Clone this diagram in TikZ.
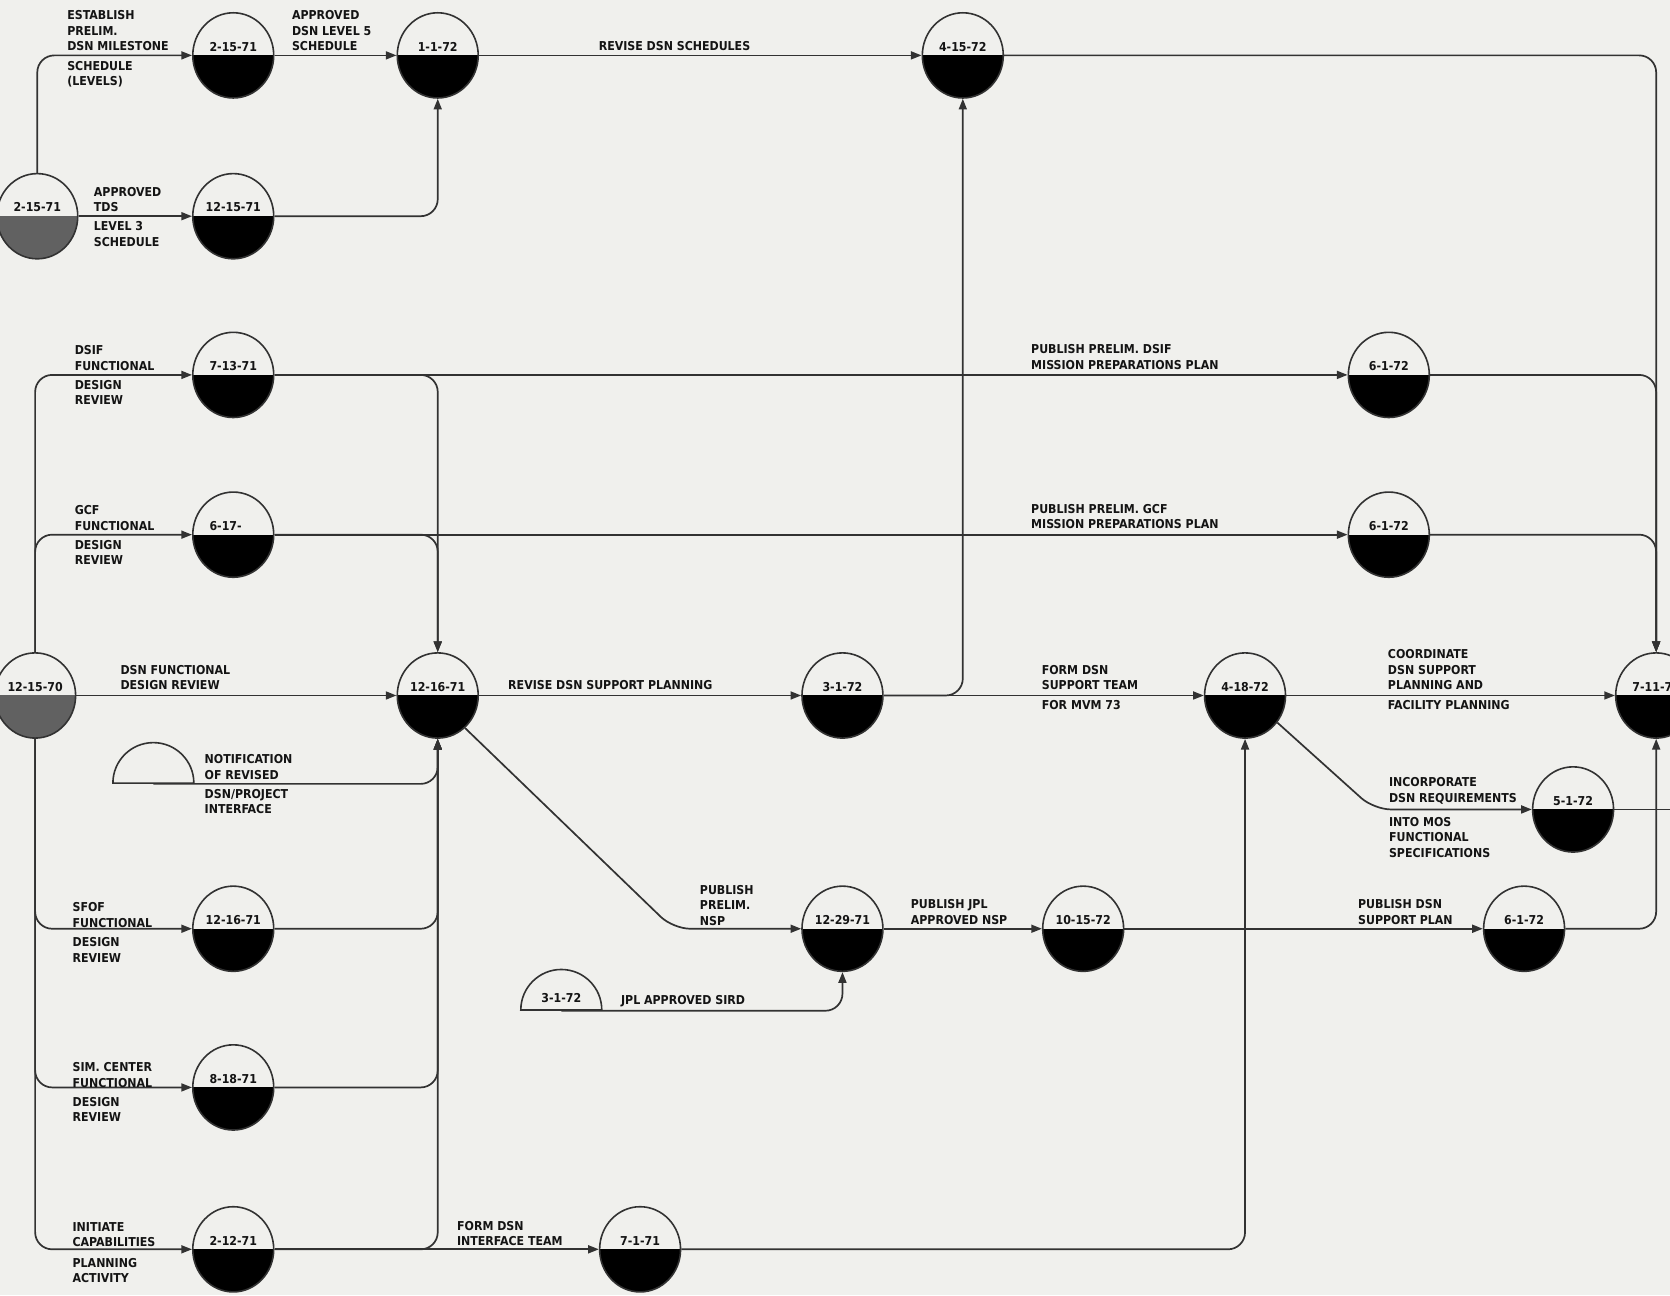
\documentclass[tikz,border=0pt]{standalone}
\usepackage{fontspec}
\setmainfont{DejaVu Sans Condensed}
\usepackage{tikz}
\usetikzlibrary{arrows.meta,shapes.geometric}

\definecolor{paper}{RGB}{240,240,237}
\definecolor{ink}{RGB}{50,50,50}
\definecolor{txt}{RGB}{20,20,20}
\newcommand\pertfont{\fontsize{11.5}{14.5}\selectfont\bfseries}

\tikzset{
  evt/.style={ellipse, draw=ink, line width=1.5pt, fill=paper,
    minimum width=76pt, minimum height=80pt, inner sep=0pt,
    path picture={\fill[black] (path picture bounding box.west) rectangle (path picture bounding box.south east);},
    label={[label distance=-37pt, inner sep=0pt, font=\pertfont, text=txt]90:#1}},
  evtgray/.style={evt=#1,
    path picture={\fill[black!62] (path picture bounding box.west) rectangle (path picture bounding box.south east);}},
  half/.style={semicircle, draw=ink, line width=1.5pt, minimum width=76pt,
    inner sep=1pt, font=\pertfont, text=txt, anchor=chord center},
  conn/.style={draw=ink, line width=1.6pt, rounded corners=16pt,
    -{Triangle[length=10pt,width=7.5pt]}},
  wire/.style={draw=ink, line width=1.6pt, rounded corners=16pt},
  lbl/.style={font=\pertfont, text=txt, inner sep=0pt, align=left},
}

\begin{document}
\begin{tikzpicture}[x=1pt,y=-1pt]
  \useasboundingbox (0,0) rectangle (1568,1216);
  \fill[paper] (0,0) rectangle (1568,1216);
  \clip (0,0) rectangle (1568,1216);

  % events
  \node[evtgray=2-15-71] (s215) at (35,203) {};
  \node[evt=2-15-71] (n215) at (219,52) {};
  \node[evt=1-1-72] (n11) at (411,52) {};
  \node[evt=4-15-72] (n415) at (904,52) {};
  \node[evt=12-15-71] (n1215) at (219,203) {};
  \node[evt=7-13-71] (n713) at (219,352) {};
  \node[evt=6-1-72] (d61a) at (1304,352) {};
  \node[evt={6-17-\phantom{71}}] (n617) at (219,502) {};
  \node[evt=6-1-72] (d61b) at (1304,502) {};
  \node[evtgray=12-15-70] (c1570) at (33,653) {};
  \node[evt=12-16-71] (c1216) at (411,653) {};
  \node[evt=3-1-72] (c31) at (791,653) {};
  \node[evt=4-18-72] (c418) at (1169,653) {};
  \node[evt=7-11-72] (c711) at (1555,653) {};
  \node[evt=5-1-72] (c51) at (1477,760) {};
  \node[evt=12-16-71] (n1216s) at (219,872) {};
  \node[evt=12-29-71] (n1229) at (791,872) {};
  \node[evt=10-15-72] (n1015) at (1017,872) {};
  \node[evt=6-1-72] (e61) at (1431,872) {};
  \node[evt=8-18-71] (n818) at (219,1021) {};
  \node[evt=2-12-71] (n212) at (219,1173) {};
  \node[evt=7-1-71] (n71) at (601,1173) {};
  \node[half] (notif) at (144,736) {};
  \node[half] (sird) at (527,949) {3-1-72};

  \coordinate (bendnsp) at (632,872);
  \coordinate (bendmos) at (1290,760);
  \coordinate (offright) at (1575,760);

  % connectors
  \draw[conn] (s215.north) |- (n215);
  \draw[conn] (s215) -- (n1215);
  \draw[conn] (n215) -- (n11);
  \draw[conn] (n1215) -| (n11);
  \draw[conn] (n11) -- (n415);
  \draw[conn] (n415) -| (c711);
  \draw[conn] (c1570.north) |- (n713);
  \draw[conn] (c1570.north) |- (n617);
  \draw[conn] (c1570.south) |- (n1216s);
  \draw[conn] (c1570.south) |- (n818);
  \draw[conn] (c1570.south) |- (n212);
  \draw[conn] (n713) -- (d61a);
  \draw[conn] (n617) -- (d61b);
  \draw[conn] (n713) -| (c1216);
  \draw[conn] (n617) -| (c1216);
  \draw[conn] (d61a) -| (c711);
  \draw[conn] (d61b) -| (c711);
  \draw[conn] (c1570) -- (c1216);
  \draw[conn] (notif.chord center) -| (c1216);
  \draw[conn] (n1216s) -| (c1216);
  \draw[conn] (n818) -| (c1216);
  \draw[conn] (n212) -| (c1216);
  \draw[conn] (n212) -- (n71);
  \draw[conn] (n71) -| (c418);
  \draw[conn] (c1216) -- (c31);
  \draw[conn] (c31) -| (n415);
  \draw[conn] (c31) -- (c418);
  \draw[conn] (c418) -- (c711);
  \draw[conn] (c418.-40) -- (bendmos) -- (c51);
  \draw[wire] (c51) -- (offright);
  \draw[conn] (c1216.-50) -- (bendnsp) -- (n1229);
  \draw[conn] (sird.chord center) -| (n1229);
  \draw[conn] (n1229) -- (n1015);
  \draw[conn] (n1015) -- (e61);
  \draw[conn] (e61) -| (c711);

  % labels
  \node[lbl, anchor=south west] (lest) at (63,48) {ESTABLISH\\PRELIM.\\DSN MILESTONE};
  \node[lbl, anchor=north west] (lsch) at (63,57) {SCHEDULE\\(LEVELS)};
  \node[lbl, anchor=south west] (lapp) at (274,48) {APPROVED\\DSN LEVEL 5\\SCHEDULE};
  \node[lbl, anchor=south west] (lrev) at (562,48) {REVISE DSN SCHEDULES};
  \node[lbl, anchor=south west] (ltds) at (88,199) {APPROVED\\TDS};
  \node[lbl, anchor=north west] (llev) at (88,208) {LEVEL 3\\SCHEDULE};
  \node[lbl, anchor=south west] (ldsif) at (70,348) {DSIF\\FUNCTIONAL};
  \node[lbl, anchor=north west] (ldsifr) at (70,357) {DESIGN\\REVIEW};
  \node[lbl, anchor=south west] (lpubd) at (968,347) {PUBLISH PRELIM. DSIF\\MISSION PREPARATIONS PLAN};
  \node[lbl, anchor=south west] (lgcf) at (70,498) {GCF\\FUNCTIONAL};
  \node[lbl, anchor=north west] (lgcfr) at (70,507) {DESIGN\\REVIEW};
  \node[lbl, anchor=south west] (lpubg) at (968,497) {PUBLISH PRELIM. GCF\\MISSION PREPARATIONS PLAN};
  \node[lbl, anchor=south west] (ldsnfr) at (113,648) {DSN FUNCTIONAL\\DESIGN REVIEW};
  \node[lbl, anchor=south west] (lrevsup) at (477,648) {REVISE DSN SUPPORT PLANNING};
  \node[lbl, anchor=south west] (lform) at (978,648) {FORM DSN\\SUPPORT TEAM};
  \node[lbl, anchor=north west] (lmvm) at (978,657) {FOR MVM 73};
  \node[lbl, anchor=south west] (lcoord) at (1303,648) {COORDINATE\\DSN SUPPORT\\PLANNING AND};
  \node[lbl, anchor=north west] (lfac) at (1303,657) {FACILITY PLANNING};
  \node[lbl, anchor=south west] (lnotif) at (192,732) {NOTIFICATION\\OF REVISED};
  \node[lbl, anchor=north west] (lproj) at (192,741) {DSN/PROJECT\\INTERFACE};
  \node[lbl, anchor=south west] (linc) at (1304,755) {INCORPORATE\\DSN REQUIREMENTS};
  \node[lbl, anchor=north west] (lmos) at (1304,767) {INTO MOS\\FUNCTIONAL\\SPECIFICATIONS};
  \node[lbl, anchor=south west] (lsfof) at (68,871) {SFOF\\FUNCTIONAL};
  \node[lbl, anchor=north west] (lsfofr) at (68,880) {DESIGN\\REVIEW};
  \node[lbl, anchor=south west] (lnsp) at (657,869) {PUBLISH\\PRELIM.\\NSP};
  \node[lbl, anchor=south west] (ljpl) at (855,868) {PUBLISH JPL\\APPROVED NSP};
  \node[lbl, anchor=south west] (lpubsp) at (1275,868) {PUBLISH DSN\\SUPPORT PLAN};
  \node[lbl, anchor=south west] (lsird) at (583,946) {JPL APPROVED SIRD};
  \node[lbl, anchor=south west] (lsim) at (68,1021) {SIM. CENTER\\FUNCTIONAL};
  \node[lbl, anchor=north west] (lsimr) at (68,1030) {DESIGN\\REVIEW};
  \node[lbl, anchor=south west] (linit) at (68,1171) {INITIATE\\CAPABILITIES};
  \node[lbl, anchor=north west] (lplan) at (68,1181) {PLANNING\\ACTIVITY};
  \node[lbl, anchor=south west] (lint) at (429,1170) {FORM DSN\\INTERFACE TEAM};
\end{tikzpicture}
\end{document}
